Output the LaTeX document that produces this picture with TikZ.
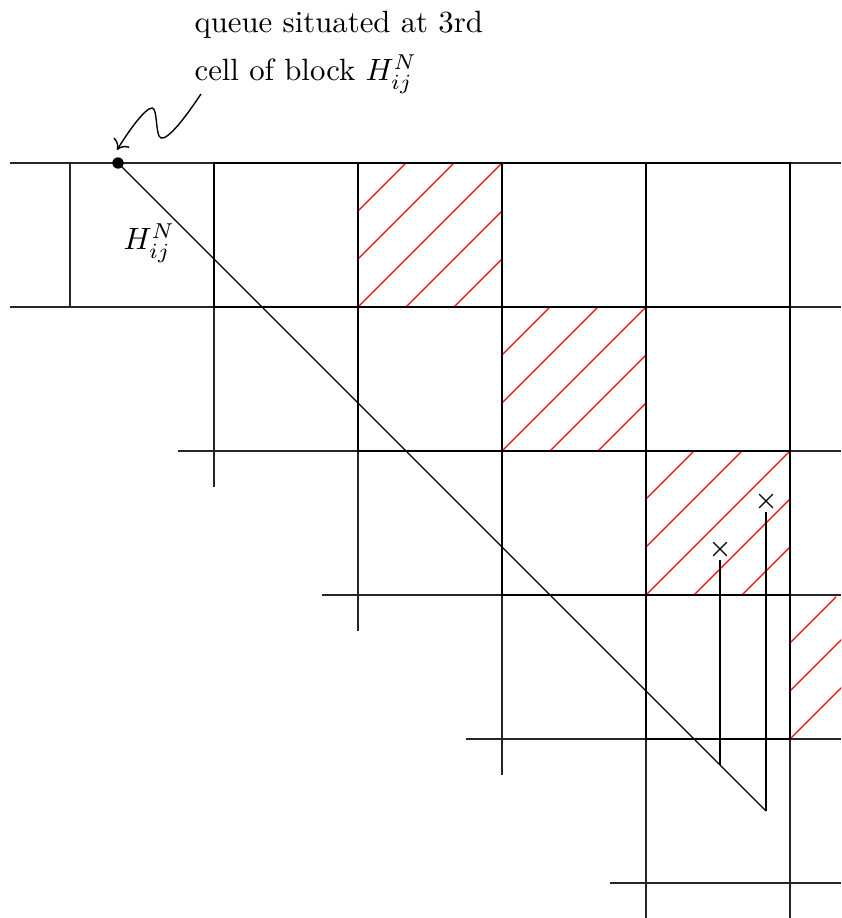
\documentclass[tikz,border=0pt]{standalone}
\usetikzlibrary{shapes.misc,arrows.meta}
\tikzset{
  thinline/.style={line width=0.45pt, black!85},
  boldline/.style={line width=0.7pt, black},
  hatchline/.style={line width=0.4pt, red},
  txt/.style={anchor=base west, inner sep=0pt},
  crossmark/.style={cross out, draw, line width=0.45pt, minimum size=4pt, inner sep=0pt},
  dotnode/.style={circle, fill=black, inner sep=0pt, minimum size=3.7pt}
}
\begin{document}
\begin{tikzpicture}[x=0.325pt, y=-0.325pt]
\useasboundingbox (0,0) rectangle (841,918);

% thin grid lines (full extents)
\draw[thinline] (10,163) -- (841,163);
\draw[thinline] (10,307) -- (841,307);
\draw[thinline] (178,451) -- (841,451);
\draw[thinline] (322,595) -- (841,595);
\draw[thinline] (466,739) -- (841,739);
\draw[thinline] (610,883) -- (841,883);
\draw[thinline] (70,163) -- (70,307);
\draw[thinline] (214,163) -- (214,487);
\draw[thinline] (358,163) -- (358,631);
\draw[thinline] (502,163) -- (502,775);
\draw[thinline] (646,163) -- (646,918);
\draw[thinline] (790,163) -- (790,918);

% hatched squares
\foreach \xo/\yo/\xm in {358/163/502, 502/307/646, 646/451/790, 790/595/836}{
  \begin{scope}
    \clip (\xo,\yo) rectangle (\xm,\yo+144);
    \foreach \k in {-2,...,2}{
      \draw[hatchline] (\xo-144+48*\k+144, \yo+144) -- (\xo+48*\k+144, \yo);
    }
  \end{scope}
}
\begin{scope}
  \clip (836,595) rectangle (841,700);
  \draw[hatchline] (790,691) -- (886,595);
  \draw[hatchline] (790,739) -- (934,595);
\end{scope}

% bold staircase squares
\foreach \r in {0,...,3}{
  \foreach \c in {\r,...,3}{
    \draw[boldline] (214+144*\c,163+144*\r) rectangle (358+144*\c,307+144*\r);
  }
}

% queue dot and diagonal
\node[dotnode] (q) at (118,163) {};
\coordinate (dend) at (766,811);
\coordinate (d1) at (720,765);
\draw[line width=0.45pt] (q.center) -- (dend);

% crosses with vertical lines
\node[crossmark] (x1) at (720,549) {};
\node[crossmark] (x2) at (766,501) {};
\draw[line width=0.45pt] (720,560) -- (d1);
\draw[line width=0.45pt] (766,512) -- (dend);

% labels
\node[txt] (h) at (123,250) {$H_{ij}^N$};
\node[txt] (t1) at (194,33) {queue situated at 3rd};
\node[txt] (t2) at (194,81) {cell of block $H_{ij}^N$};

% wavy arrow
\coordinate (a0) at (201,94);
\coordinate (tip) at (117,150);
\draw[line width=0.45pt, -{To[length=3pt,width=6pt]}] (a0) .. controls (185,118) and (168,140) .. (161,138)
   .. controls (155,136) and (158,108) .. (152,108)
   .. controls (145,108) and (128,132) .. (tip);
\end{tikzpicture}
\end{document}
